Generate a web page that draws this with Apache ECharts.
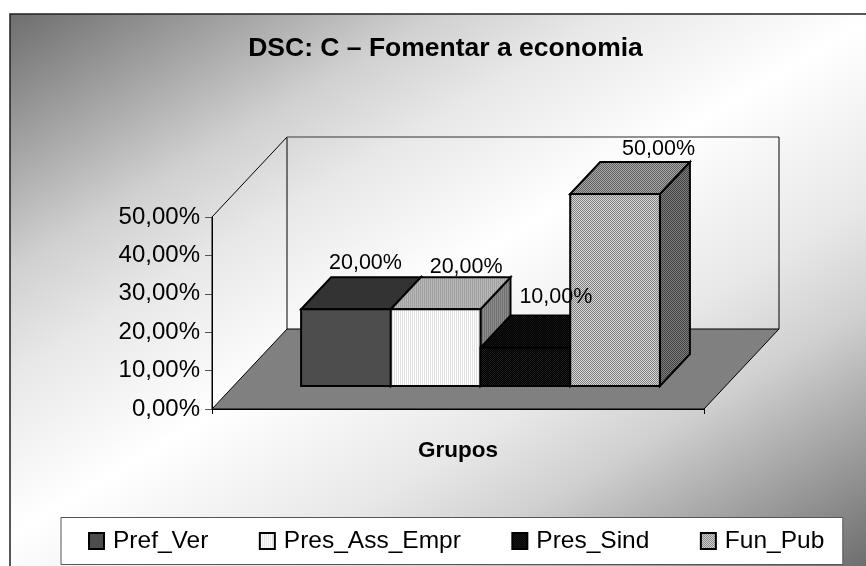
<!DOCTYPE html>
<html><head><meta charset="utf-8">
<style>html,body{margin:0;padding:0;background:#fff}#c{width:866px;height:566px}</style>
<script src="https://cdn.jsdelivr.net/npm/echarts@6/dist/echarts.min.js"></script>
</head><body><div id="c"></div>
<script>
// ---- data ----
const titleText = 'DSC: C \u2013 Fomentar a economia';
const categories = ['Grupos'];
const seriesNames = ['Pref_Ver', 'Pres_Ass_Empr', 'Pres_Sind', 'Fun_Pub'];
const prefVer = [20];
const presAssEmpr = [20];
const presSind = [10];
const funPub = [50];
const seriesValues = [prefVer, presAssEmpr, presSind, funPub];
const yMin = 0, yMax = 50, yStep = 10;

// ---- styles ----
const FONT = '"Liberation Sans", Arial, sans-serif';
const wallDepth = [75, -80];     // floor/wall depth
const barDepth = [30, -32];      // depth of a bar
const barInset = [22.5, -23];    // offset of the bars' base from the floor's front edge
const barWidth = 89.7;
const labelOffsets = [[19.5, -46], [30.5, -42], [30.5, -51], [43.5, -45]];

function pattern(size, paint) {
  const cv = document.createElement('canvas');
  cv.width = cv.height = size;
  const g = cv.getContext('2d');
  for (let y = 0; y < size; y++) for (let x = 0; x < size; x++) {
    g.fillStyle = paint(x, y);
    g.fillRect(x, y, 1, 1);
  }
  return { image: cv, repeat: 'repeat' };
}
const checker = (a, b) => pattern(2, (x, y) => ((x + y) % 2 ? a : b));
const stripes = (a, b) => pattern(2, (x) => (x % 2 ? a : b));

const faces = [
  { front: '#4d4d4d', top: '#333333', side: '#262626' },
  { front: stripes('#ffffff', '#e0e0e0'), top: stripes('#b8b8b8', '#a0a0a0'), side: stripes('#8c8c8c', '#707070') },
  { front: checker('#000000', '#1a1a1a'), top: checker('#000000', '#141414'), side: '#000000' },
  { front: checker('#d8d8d8', '#808080'), top: checker('#a8a8a8', '#606060'), side: checker('#808080', '#404040') }
];
const legendColors = faces.map(f => f.front);

const fmt = v => v.toFixed(2).replace('.', ',') + '%';

function shapeFace(points, fill, lw) {
  return { type: 'polygon', shape: { points }, style: { fill, stroke: '#000', lineWidth: lw, lineJoin: 'miter' } };
}

function wallsRender(params, api) {
  const o = api.coord([0, yMin]);
  const t = api.coord([0, yMax]);
  const bw = api.size([1, 0])[0];
  const x0 = o[0] - bw / 2, x1 = o[0] + bw / 2, y0 = o[1], y1 = t[1];
  const dx = wallDepth[0], dy = wallDepth[1];
  return { type: 'group', children: [
    { type: 'polygon', shape: { points: [[x0, y0], [x1, y0], [x1 + dx, y0 + dy], [x0 + dx, y0 + dy]] },
      style: { fill: '#808080', stroke: '#000', lineWidth: 1 } },
    { type: 'polyline', shape: { points: [[x0, y0], [x0, y1], [x0 + dx, y1 + dy], [x0 + dx, y0 + dy]] },
      style: { fill: 'none', stroke: '#000', lineWidth: 1 } },
    { type: 'polyline', shape: { points: [[x0 + dx, y1 + dy], [x1 + dx, y1 + dy]] },
      style: { fill: 'none', stroke: '#6e6e6e', lineWidth: 1.5 } },
    { type: 'polyline', shape: { points: [[x1 + dx, y1 + dy], [x1 + dx, y0 + dy]] },
      style: { fill: 'none', stroke: '#000', lineWidth: 1 } }
  ] };
}

function barRender(idx) {
  return function (params, api) {
    const val = api.value(1);
    const base = api.coord([0, 0]);
    const top = api.coord([0, val]);
    const n = seriesValues.length;
    const cx = base[0] + barInset[0];
    const x0 = cx - n * barWidth / 2 + idx * barWidth, x1 = x0 + barWidth;
    const y0 = base[1] + barInset[1], y1 = top[1] + barInset[1];
    const dx = barDepth[0], dy = barDepth[1];
    const f = faces[idx];
    const lw = 2;
    return { type: 'group', children: [
      Object.assign(shapeFace([[x1, y0], [x1 + dx, y0 + dy], [x1 + dx, y1 + dy], [x1, y1]], f.side, lw), { z2: 1 }),
      Object.assign(shapeFace([[x0, y1], [x0 + dx, y1 + dy], [x1 + dx, y1 + dy], [x1, y1]], f.top, lw), { z2: 2 }),
      Object.assign(shapeFace([[x0, y0], [x1, y0], [x1, y1], [x0, y1]], f.front, lw), { z2: 3 }),
      { type: 'text', z2: 100, style: {
        text: fmt(val), x: (x0 + x1) / 2 + labelOffsets[idx][0], y: y1 + labelOffsets[idx][1],
        align: 'center', verticalAlign: 'middle', font: '21.5px ' + FONT, fill: '#000' } }
    ] };
  };
}

const chart = echarts.init(document.getElementById('c'), null, { renderer: 'canvas' });
const barSeries = seriesNames.map((name, i) => ({
  name, type: 'custom', z: 4, clip: false,
  renderItem: barRender(i),
  itemStyle: { color: legendColors[i], borderColor: '#000', borderWidth: 1 },
  data: seriesValues[i].map((v, k) => [k, v]),
  encode: { x: 0, y: 1 }
}));

chart.setOption({
  animation: false,
  backgroundColor: '#ffffff',
  graphic: [{
    type: 'rect', z: -10, silent: true,
    shape: { x: 10, y: 14, width: 870, height: 570 },
    style: {
      fill: new echarts.graphic.LinearGradient(10, 14, 481, 797, [
        { offset: 0, color: '#6e6e6e' }, { offset: 0.142, color: '#a8a8a8' },
        { offset: 0.24, color: '#d0d0d0' }, { offset: 0.34, color: '#e8e8e8' },
        { offset: 0.49, color: '#ffffff' },
        { offset: 0.66, color: '#e8e8e8' }, { offset: 0.76, color: '#d0d0d0' },
        { offset: 0.858, color: '#a8a8a8' }, { offset: 1, color: '#6e6e6e' }
      ], true),
      stroke: '#222', lineWidth: 1.5
    }
  }],
  title: {
    text: titleText, left: 440.5, top: 30, textAlign: 'center',
    textStyle: { fontFamily: FONT, fontSize: 26.5, fontWeight: 'bold', color: '#000' }
  },
  legend: {
    data: seriesNames, left: 61, top: 517.5, orient: 'horizontal',
    padding: [11, 18.5, 11, 27], itemGap: 50.5, itemWidth: 15, itemHeight: 16,
    backgroundColor: '#ffffff', borderColor: '#555', borderWidth: 1,
    icon: 'rect',
    textStyle: { fontFamily: FONT, fontSize: 24.5, color: '#000', padding: [0, 0, 0, 4] }
  },
  grid: { left: 212, top: 217, width: 492, height: 192, containLabel: false },
  xAxis: {
    type: 'category', data: categories,
    name: categories[0], nameLocation: 'middle', nameGap: 30,
    nameTextStyle: { fontFamily: FONT, fontSize: 22.5, fontWeight: 'bold', color: '#000' },
    axisLabel: { show: false },
    axisLine: { lineStyle: { color: '#000', width: 1 } },
    axisTick: { show: true, length: 5, lineStyle: { color: '#000' } },
    splitLine: { show: false }
  },
  yAxis: {
    type: 'value', min: yMin, max: yMax, interval: yStep,
    axisLabel: { formatter: fmt, fontFamily: FONT, fontSize: 24, color: '#000', margin: 12 },
    axisLine: { show: true, lineStyle: { color: '#000', width: 1 } },
    axisTick: { show: true, length: 7, lineStyle: { color: '#555' } },
    splitLine: { show: false }
  },
  series: [{
    type: 'custom', z: 1, silent: true, clip: false, legendHoverLink: false,
    renderItem: wallsRender, data: [[0, yMin]], encode: { x: 0, y: 1 }
  }].concat(barSeries)
});
</script></body></html>
